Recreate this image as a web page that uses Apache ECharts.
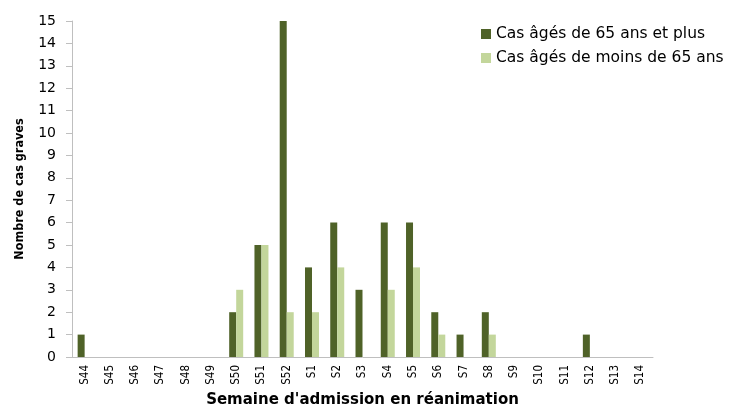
<!DOCTYPE html>
<html>
<head>
<meta charset="utf-8">
<script src="https://cdn.jsdelivr.net/npm/echarts@6/dist/echarts.min.js"></script>
<style>
  html, body { margin: 0; padding: 0; background: #fff; }
  #chart { width: 733px; height: 405px; }
</style>
</head>
<body>
<div id="chart"></div>
<script>
const weeks = ['S44', 'S45', 'S46', 'S47', 'S48', 'S49', 'S50', 'S51', 'S52',
  'S1', 'S2', 'S3', 'S4', 'S5', 'S6', 'S7', 'S8', 'S9', 'S10', 'S11', 'S12', 'S13', 'S14'];
const cas65Plus = [1, 0, 0, 0, 0, 0, 2, 5, 15, 4, 6, 3, 6, 6, 2, 1, 2, 0, 0, 0, 1, 0, 0];
const casMoins65 = [0, 0, 0, 0, 0, 0, 3, 5, 2, 2, 4, 0, 3, 4, 1, 0, 1, 0, 0, 0, 0, 0, 0];

const chart = echarts.init(document.getElementById('chart'));

const option = {
  animation: false,
  legend: {
    orient: 'vertical',
    left: 476,
    top: 21,
    itemWidth: 10,
    itemHeight: 10,
    itemGap: 8,
    icon: 'rect',
    textStyle: { fontFamily: 'DejaVu Sans', fontSize: 15.5, color: '#000' },
    data: ['Cas âgés de 65 ans et plus', 'Cas âgés de moins de 65 ans']
  },
  grid: { left: 72, right: 80, top: 21, bottom: 48, outerBoundsMode: 'none', containLabel: false },
  xAxis: {
    type: 'category',
    data: weeks,
    name: "Semaine d'admission en réanimation",
    nameLocation: 'middle',
    nameGap: 33,
    nameTextStyle: { fontFamily: 'DejaVu Sans', fontWeight: 'bold', fontSize: 15, color: '#000' },
    axisLine: { lineStyle: { color: '#bfbfbf' } },
    axisTick: { show: false },
    axisLabel: {
      rotate: 90,
      interval: 0,
      margin: 8,
      fontFamily: 'DejaVu Sans Condensed',
      fontSize: 11.5,
      color: '#000'
    }
  },
  yAxis: {
    type: 'value',
    min: 0,
    max: 15,
    interval: 1,
    name: 'Nombre de cas graves',
    nameLocation: 'middle',
    nameGap: 46,
    nameTextStyle: { fontFamily: 'DejaVu Sans Condensed', fontWeight: 'bold', fontSize: 12.5, color: '#000' },
    axisLine: { show: true, lineStyle: { color: '#bfbfbf' } },
    axisTick: { show: true, length: 6, lineStyle: { color: '#bfbfbf' } },
    splitLine: { show: false },
    axisLabel: { fontFamily: 'DejaVu Sans', fontSize: 14, color: '#000', margin: 16 }
  },
  series: [
    {
      name: 'Cas âgés de 65 ans et plus',
      type: 'bar',
      data: cas65Plus,
      barWidth: 7,
      barGap: '0%',
      itemStyle: { color: '#4f6228' }
    },
    {
      name: 'Cas âgés de moins de 65 ans',
      type: 'bar',
      data: casMoins65,
      barWidth: 7,
      barGap: '0%',
      itemStyle: { color: '#c3d69b' }
    }
  ]
};

chart.setOption(option);
</script>
</body>
</html>
